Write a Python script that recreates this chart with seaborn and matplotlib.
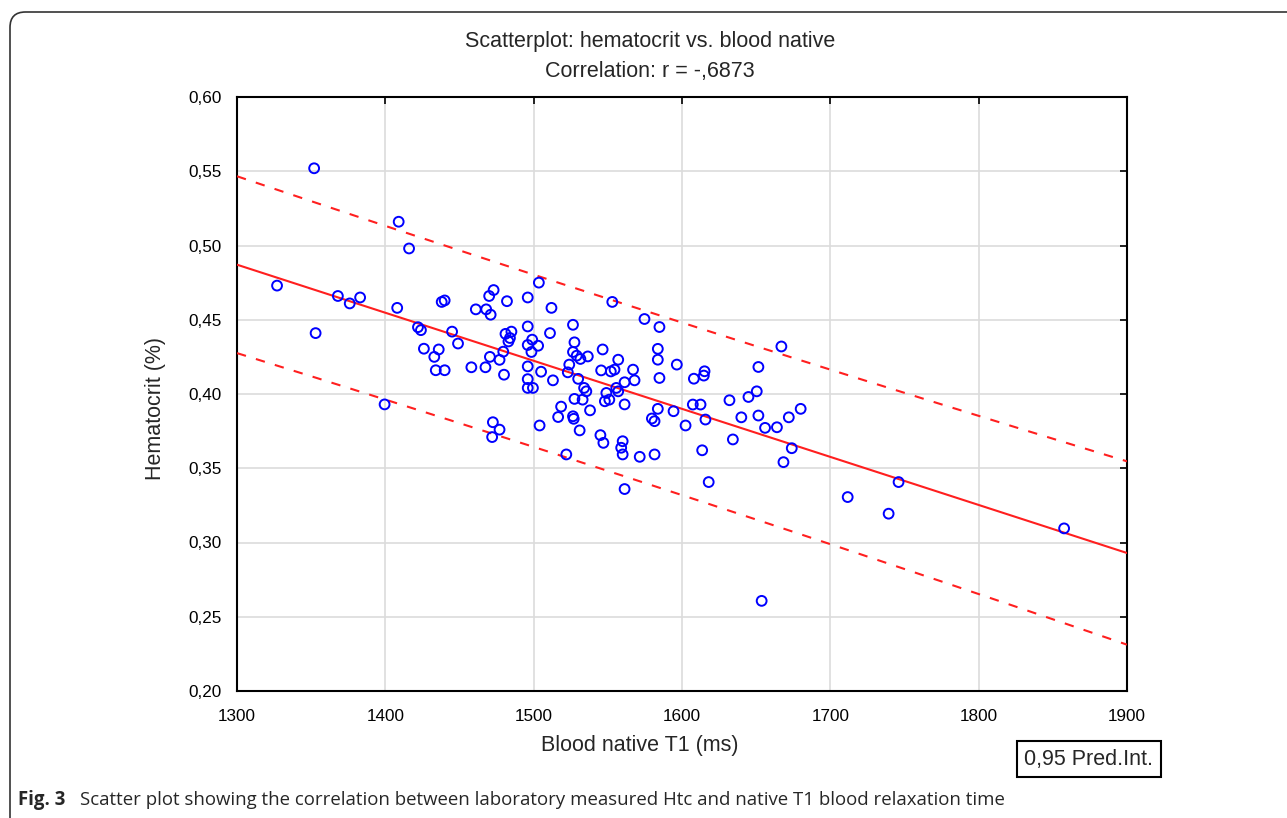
import numpy as np
import pandas as pd
import matplotlib
matplotlib.use("Agg")
import matplotlib.pyplot as plt
import seaborn as sns
from matplotlib.ticker import FuncFormatter
from matplotlib.patches import FancyBboxPatch

# ---- data ----
t1_ms = [
    1327, 1352, 1353, 1368, 1376, 1383, 1399.5, 1408, 1409, 1416,
    1422, 1424, 1426, 1433, 1436, 1434, 1440, 1438, 1440, 1445,
    1449, 1458, 1461, 1468, 1471, 1470, 1473, 1482, 1496, 1467.5,
    1470.5, 1477, 1479.5, 1480, 1481, 1485, 1484, 1483, 1496, 1496,
    1499, 1503, 1498.5, 1496, 1496, 1496, 1499.5, 1472.5, 1477, 1472,
    1503.5, 1512, 1526.5, 1511, 1527.5, 1526.5, 1529, 1531.5, 1536.5, 1524,
    1523, 1505, 1513, 1530, 1534, 1535.5, 1533, 1527.5, 1538, 1518.5,
    1516.5, 1527, 1526.5, 1504, 1531, 1522,
    1553, 1546.5, 1557, 1554.5, 1552, 1567, 1545.5, 1561.3, 1568, 1555.7,
    1549, 1557, 1548, 1551, 1561.3, 1545, 1547, 1560, 1559, 1560,
    1561.3, 1571.5, 1574.7, 1584.8,
    1583.7, 1583.7, 1596.5, 1584.8, 1608, 1614.7, 1615.2, 1583.7, 1579.7, 1581.5,
    1594.3, 1607.3, 1612.5, 1615.8, 1602.4, 1581.5, 1613.6, 1618,
    1667, 1651.5, 1650.4, 1644.8, 1632, 1680, 1672, 1640, 1651.5, 1656,
    1664, 1634.3, 1674, 1668.4, 1653.7, 1711.7, 1746, 1739.3, 1857.6,
]
hematocrit = [
    0.473, 0.552, 0.441, 0.466, 0.461, 0.465, 0.393, 0.458, 0.516, 0.498,
    0.445, 0.443, 0.4305, 0.425, 0.430, 0.416, 0.416, 0.462, 0.463, 0.442,
    0.434, 0.418, 0.457, 0.457, 0.4534, 0.466, 0.470, 0.4625, 0.465, 0.418,
    0.425, 0.423, 0.4285, 0.413, 0.4405, 0.442, 0.4377, 0.4354, 0.4455, 0.433,
    0.4366, 0.4325, 0.4283, 0.4186, 0.410, 0.4041, 0.4041, 0.381, 0.376, 0.371,
    0.475, 0.458, 0.4466, 0.441, 0.4348, 0.4283, 0.4258, 0.4236, 0.4253, 0.4198,
    0.4146, 0.415, 0.4092, 0.4102, 0.4041, 0.4018, 0.3962, 0.3967, 0.389, 0.3915,
    0.3845, 0.3833, 0.385, 0.3788, 0.3755, 0.3593,
    0.462, 0.430, 0.4231, 0.4164, 0.4152, 0.4164, 0.4159, 0.4079, 0.4092, 0.4041,
    0.4007, 0.4018, 0.3951, 0.3962, 0.393, 0.3723, 0.3671, 0.3682, 0.3638, 0.3593,
    0.336, 0.3577, 0.4505, 0.4451,
    0.4304, 0.4231, 0.4198, 0.4108, 0.4103, 0.4124, 0.4153, 0.390, 0.3835, 0.3817,
    0.3884, 0.3929, 0.3929, 0.3828, 0.3788, 0.3593, 0.3621, 0.3407,
    0.432, 0.4182, 0.4018, 0.398, 0.3958, 0.390, 0.3843, 0.3843, 0.3855, 0.3772,
    0.3776, 0.3694, 0.3635, 0.3541, 0.2607, 0.3306, 0.3407, 0.3194, 0.3095,
]
x_ticks = [1300, 1400, 1500, 1600, 1700, 1800, 1900]
y_ticks = [0.20, 0.25, 0.30, 0.35, 0.40, 0.45, 0.50, 0.55, 0.60]

title_lines = ["Scatterplot: hematocrit vs. blood native", "Correlation: r = -,6873"]
x_label = "Blood native T1 (ms)"
y_label = "Hematocrit (%)"
legend_text = "0,95 Pred.Int."
caption_bold = "Fig. 3"
caption_text = "Scatter plot showing the correlation between laboratory measured Htc and native T1 blood relaxation time"

df = pd.DataFrame({"t1": t1_ms, "htc": hematocrit})

# ---- regression + 95% prediction interval ----
x = df["t1"].to_numpy(float)
y = df["htc"].to_numpy(float)
n = len(x)
b1, b0 = np.polyfit(x, y, 1)
resid = y - (b0 + b1 * x)
s = np.sqrt(np.sum(resid ** 2) / (n - 2))
xm = x.mean()
sxx = np.sum((x - xm) ** 2)
t975 = 1.977
xg = np.linspace(x_ticks[0], x_ticks[-1], 200)
yg = b0 + b1 * xg
half = t975 * s * np.sqrt(1 + 1 / n + (xg - xm) ** 2 / sxx)
fit = pd.DataFrame({"t1": xg, "fit": yg, "lo": yg - half, "hi": yg + half})

# ---- style ----
sns.set_style("white")
plt.rcParams["font.family"] = ["Liberation Sans", "DejaVu Sans"]

fig = plt.figure(figsize=(12.87, 8.18), dpi=100)
ax = fig.add_axes([237 / 1287, 1 - 691 / 818, (1127 - 237) / 1287, (691 - 97) / 818])

ax.grid(True, color="#dcdcdc", linewidth=1.2, zorder=0)
ax.set_axisbelow(True)

red = "#ff1f1f"
sns.lineplot(data=fit, x="t1", y="fit", ax=ax, color=red, linewidth=1.5, zorder=3)
sns.lineplot(data=fit, x="t1", y="hi", ax=ax, color=red, linewidth=1.5,
             linestyle=(0, (4.5, 5)), zorder=3)
sns.lineplot(data=fit, x="t1", y="lo", ax=ax, color=red, linewidth=1.5,
             linestyle=(0, (4.5, 5)), zorder=3)
sns.scatterplot(data=df, x="t1", y="htc", ax=ax, marker="o", s=50,
                facecolors="none", edgecolors="#0000ff", linewidth=1.4, zorder=4)

ax.set_xlim(x_ticks[0], x_ticks[-1])
ax.set_ylim(y_ticks[0], y_ticks[-1])
ax.set_xticks(x_ticks)
ax.set_yticks(y_ticks)
ax.yaxis.set_major_formatter(FuncFormatter(lambda v, p: f"{v:.2f}".replace(".", ",")))
ax.tick_params(direction="in", length=5, width=1.2, top=True, right=True,
               labelsize=12.3, colors="black", pad=11)
ax.tick_params(axis="x", pad=13)
for sp in ax.spines.values():
    sp.set_visible(True)
    sp.set_color("black")
    sp.set_linewidth(1.5)
ax.set_xlabel("")
ax.set_ylabel("")

fig.text(650 / 1287, 1 - 42 / 818, title_lines[0], ha="center", va="center", fontsize=15.5)
fig.text(650 / 1287, 1 - 71 / 818, title_lines[1], ha="center", va="center", fontsize=15.5)
fig.text(640 / 1287, 1 - 745 / 818, x_label, ha="center", va="center", fontsize=15.5)
fig.text(155 / 1287, 1 - 408 / 818, y_label, ha="center", va="center", fontsize=15.5,
         rotation=90)

# legend box
fig.text(1089 / 1287, 1 - 759 / 818, legend_text, ha="center", va="center", fontsize=15.5,
         bbox=dict(boxstyle="square,pad=0.33", fc="white", ec="black", lw=1.5))

# outer frame (rounded top-left corner)
frame = FancyBboxPatch((10 / 1287, -0.1), 1.2, 1 - 12 / 818 + 0.1,
                       boxstyle="round,pad=0,rounding_size=0.012",
                       transform=fig.transFigure, fc="none", ec="#333333", lw=1.2,
                       mutation_aspect=1287 / 818)
fig.patches.append(frame)

# caption
fig.text(18 / 1287, 1 - 800 / 818, caption_bold, ha="left", va="center", fontsize=13.4,
         fontweight="bold", family=["Open Sans", "DejaVu Sans"])
fig.text(80 / 1287, 1 - 800 / 818, caption_text, ha="left", va="center", fontsize=13.4,
         family=["Open Sans", "DejaVu Sans"])

fig.savefig("out.png", dpi=100)
